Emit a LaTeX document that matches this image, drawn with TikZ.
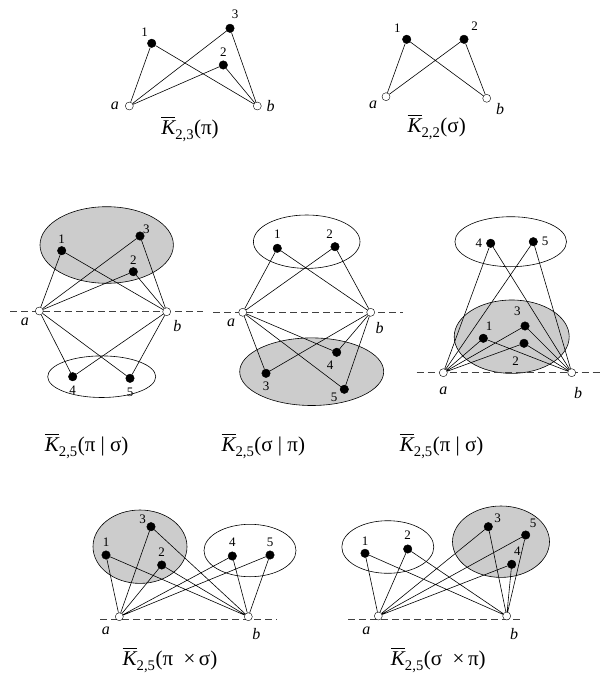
\documentclass[tikz,border=0pt]{standalone}
\usepackage{amsmath}
\usepackage{fontspec}
\setmainfont{Liberation Serif}
\newcommand{\kbar}[2]{$\overline{\mbox{\itshape K}}_{\text{\raisebox{-2pt}{#1}}}$(#2)}

\begin{document}
\begin{tikzpicture}[x=1pt, y=-1pt, label distance=2pt]
  \tikzstyle{dot} = [circle, draw, fill=black, inner sep=0pt, minimum size=8.5pt]
  \tikzstyle{ring} = [circle, draw, fill=white, inner sep=0pt, minimum size=8pt]
  \tikzstyle{link} = [line width=0.6pt]
  \tikzstyle{cut} = [line width=0.6pt, black!75, dash pattern=on 7pt off 4pt]
  \tikzstyle{grayset} = [draw, line width=0.6pt, fill=black!20]
  \tikzstyle{whiteset} = [draw, line width=0.6pt]
  \tikzstyle{num} = [font=\fontsize{13}{13}\selectfont, inner sep=1pt]
  \tikzstyle{vname} = [font=\fontsize{16}{16}\selectfont\itshape, inner sep=1pt]
  \tikzstyle{gname} = [font=\fontsize{21}{25}\selectfont]

  \useasboundingbox (0,0) rectangle (600,687);

  % Row 1: K_{2,3}(pi)
  \node [dot, label={[num]113:1}] (g1n1) at (151.7,43.3) {};
  \node [dot, label={[num,label distance=3pt]90:2}] (g1n2) at (223.3,65) {};
  \node [dot, label={[num,label distance=4pt]86:3}] (g1n3) at (230,28.3) {};
  \node [ring, label={[vname,label distance=5pt]180:a}] (g1a) at (129.3,106) {};
  \node [ring, label={[vname,label distance=4pt]0:b}] (g1b) at (257.3,106) {};
  \draw [link] (g1a) -- (g1n1) (g1a) -- (g1n2) (g1a) -- (g1n3)
               (g1b) -- (g1n1) (g1b) -- (g1n2) (g1b) -- (g1n3);
  \node [gname] (g1t) at (190,129) {\kbar{2,3}{π}};

  % Row 1: K_{2,2}(sigma)
  \node [dot, label={[num,label distance=3pt]132:1}] (g2n1) at (406.7,39.3) {};
  \node [dot, label={[num,label distance=5pt]49:2}] (g2n2) at (464,39.3) {};
  \node [ring, label={[vname,label distance=4pt]200:a}] (g2a) at (386,96.7) {};
  \node [ring, label={[vname,label distance=5pt]-25:b}] (g2b) at (486.7,98.3) {};
  \draw [link] (g2a) -- (g2n1) (g2a) -- (g2n2) (g2b) -- (g2n1) (g2b) -- (g2n2);
  \node [gname] (g2t) at (436.7,127) {\kbar{2,2}{σ}};

  % Row 2: K_{2,5}(pi | sigma), split line
  \draw [grayset] (106.7,245) ellipse [x radius=66.7pt, y radius=38.3pt];
  \draw [whiteset] (101.7,376.7) ellipse [x radius=54pt, y radius=20.8pt];
  \draw [cut] (10,311) -- (203,311);
  \node [dot, label={[num]90:1}] (g3n1) at (61.7,250.7) {};
  \node [dot, label={[num]90:2}] (g3n2) at (133.3,271.7) {};
  \node [dot, label={[num,label distance=-2pt]40:3}] (g3n3) at (140,236) {};
  \node [dot, label={[num,label distance=4pt]-90:4}] (g3n4) at (72.7,376.7) {};
  \node [dot, label={[num,label distance=4pt]-90:5}] (g3n5) at (130,378.3) {};
  \node [ring, label={[vname,label distance=7pt]214:a}] (g3a) at (39.3,311) {};
  \node [ring, label={[vname,label distance=5pt]-53:b}] (g3b) at (166.7,311.7) {};
  \draw [link] (g3a) -- (g3n1) (g3a) -- (g3n2) (g3a) -- (g3n3) (g3a) -- (g3n4) (g3a) -- (g3n5)
               (g3b) -- (g3n1) (g3b) -- (g3n2) (g3b) -- (g3n3) (g3b) -- (g3n4) (g3b) -- (g3n5);
  \node [gname] (g3t) at (86.7,446) {\kbar{2,5}{π | σ}};

  % Row 2: K_{2,5}(sigma | pi)
  \draw [whiteset] (306.7,241.7) ellipse [x radius=53.3pt, y radius=26.7pt];
  \draw [grayset] (311.7,371.7) ellipse [x radius=72pt, y radius=33.8pt];
  \draw [cut] (213,312.3) -- (403,312.3);
  \node [dot, label={[num,label distance=4pt]90:1}] (g4n1) at (277.3,248.3) {};
  \node [dot, label={[num,label distance=3pt]97:2}] (g4n2) at (335,246.7) {};
  \node [dot, label={[num,label distance=3pt]-90:3}] (g4n3) at (266,373.3) {};
  \node [dot, label={[num,label distance=3pt]-107:4}] (g4n4) at (336.7,352.3) {};
  \node [dot, label={[num,label distance=2pt]207:5}] (g4n5) at (344.3,389.3) {};
  \node [ring, label={[vname,label distance=4pt]220:a}] (g4a) at (242.7,312.3) {};
  \node [ring, label={[vname,label distance=5pt]-67:b}] (g4b) at (370.7,312.3) {};
  \draw [link] (g4a) -- (g4n1) (g4a) -- (g4n2) (g4a) -- (g4n3) (g4a) -- (g4n4) (g4a) -- (g4n5)
               (g4b) -- (g4n1) (g4b) -- (g4n2) (g4b) -- (g4n3) (g4b) -- (g4n4) (g4b) -- (g4n5);
  \node [gname] (g4t) at (263.3,446) {\kbar{2,5}{σ | π}};

  % Row 2: K_{2,5}(pi | sigma), both sets above
  \draw [whiteset] (510.7,241.7) ellipse [x radius=55.8pt, y radius=25pt];
  \draw [grayset] (511.7,336.7) ellipse [x radius=57.5pt, y radius=36.7pt];
  \draw [cut] (416.7,372.7) -- (600,372.7);
  \node [dot, label={[num,label distance=2pt]77:1}] (g5n1) at (483.3,338.3) {};
  \node [dot, label={[num,label distance=9pt]-107:2}] (g5n2) at (524,343.3) {};
  \node [dot, label={[num,label distance=5pt]109:3}] (g5n3) at (525,326) {};
  \node [dot, label={[num,label distance=3pt]180:4}] (g5n4) at (490.7,243.3) {};
  \node [dot, label={[num,label distance=3pt]0:5}] (g5n5) at (533.3,241.7) {};
  \node [ring, label={[vname,label distance=9pt]-90:a}] (g5a) at (443.3,372.7) {};
  \node [ring, label={[vname,label distance=9pt]-85:b}] (g5b) at (571.7,372.7) {};
  \draw [link] (g5a) -- (g5n1) (g5a) -- (g5n2) (g5a) -- (g5n3) (g5a) -- (g5n4) (g5a) -- (g5n5)
               (g5b) -- (g5n1) (g5b) -- (g5n2) (g5b) -- (g5n3) (g5b) -- (g5n4) (g5b) -- (g5n5);
  \node [gname] (g5t) at (441.7,446) {\kbar{2,5}{π | σ}};

  % Row 3: K_{2,5}(pi x sigma)
  \draw [grayset] (140,546.7) ellipse [x radius=47pt, y radius=36.7pt];
  \draw [whiteset] (250,550.5) ellipse [x radius=46pt, y radius=26.2pt];
  \draw [cut] (100,619) -- (277,619);
  \node [dot, label={[num,label distance=3pt]90:1}] (g6n1) at (106,555) {};
  \node [dot, label={[num,label distance=3pt]90:2}] (g6n2) at (161.7,565) {};
  \node [dot, label={[num,label distance=0pt]152:3}] (g6n3) at (151,526.7) {};
  \node [dot, label={[num,label distance=4pt]90:4}] (g6n4) at (232.3,556) {};
  \node [dot, label={[num,label distance=3pt]90:5}] (g6n5) at (270,555) {};
  \node [ring, label={[vname,label distance=8pt]228:a}] (g6a) at (119.3,616.7) {};
  \node [ring, label={[vname,label distance=7pt]-75:b}] (g6b) at (248.3,616.7) {};
  \draw [link] (g6a) -- (g6n1) (g6a) -- (g6n2) (g6a) -- (g6n3) (g6a) -- (g6n4) (g6a) -- (g6n5)
               (g6b) -- (g6n1) (g6b) -- (g6n2) (g6b) -- (g6n3) (g6b) -- (g6n4) (g6b) -- (g6n5);
  \node [gname] (g6t) at (170,660) {\kbar{2,5}{π~~×\,σ}};

  % Row 3: K_{2,5}(sigma x pi)
  \draw [whiteset] (387.8,547) ellipse [x radius=46pt, y radius=26.3pt];
  \draw [grayset] (501,541.7) ellipse [x radius=48.5pt, y radius=35.7pt];
  \draw [cut] (348,619) -- (520,619);
  \node [dot, label={[num,label distance=2pt]90:1}] (g7n1) at (365,553.3) {};
  \node [dot, label={[num,label distance=3.5pt]90:2}] (g7n2) at (407.7,549) {};
  \node [dot, label={[num,label distance=1pt]27:3}] (g7n3) at (488.3,526.7) {};
  \node [dot, label={[num,label distance=3pt]80:4}] (g7n4) at (511.7,564.3) {};
  \node [dot, label={[num,label distance=2pt]63:5}] (g7n5) at (525.7,535) {};
  \node [ring, label={[vname,label distance=8pt]237:a}] (g7a) at (378.3,616) {};
  \node [ring, label={[vname,label distance=7pt]-79:b}] (g7b) at (506.7,616) {};
  \draw [link] (g7a) -- (g7n1) (g7a) -- (g7n2) (g7a) -- (g7n3) (g7a) -- (g7n4) (g7a) -- (g7n5)
               (g7b) -- (g7n1) (g7b) -- (g7n2) (g7b) -- (g7n3) (g7b) -- (g7n4) (g7b) -- (g7n5);
  \node [gname] (g7t) at (438.3,660) {\kbar{2,5}{σ~~×\,π}};

\end{tikzpicture}
\end{document}
